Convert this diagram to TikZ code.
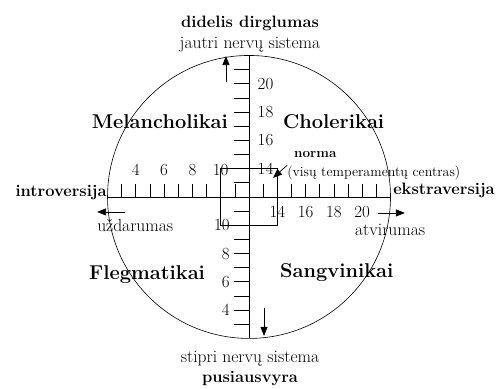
\documentclass[tikz,border=0pt]{standalone}
\usetikzlibrary{arrows.meta}
\tikzset{
  lbl/.style={font=\fontsize{17.5}{20}\selectfont,inner sep=0pt},
  blbl/.style={font=\fontsize{16.5}{20}\selectfont\bfseries,inner sep=0pt},
  quad/.style={font=\fontsize{20}{24}\selectfont\bfseries,inner sep=0pt},
  num/.style={font=\fontsize{17}{20}\selectfont,inner sep=0pt},
  axisline/.style={line width=0.8pt},
  tickline/.style={line width=0.7pt},
  dirarrow/.style={-{Triangle[length=9pt,width=7pt]},line width=0.7pt}
}

\begin{document}
\begin{tikzpicture}[x=14.15pt,y=14.15pt]
    \useasboundingbox (-17.6,-13.57) rectangle (17.88,13.92);
    \draw[line width=0.6pt] (0,0) circle (10);
    \draw[axisline] (-10,0) -- (10,0);
    \draw[axisline] (0,10) -- (0,-10);
    \foreach \t in {-9,...,-1,1,2,...,9} {
      \draw[tickline] (\t,0) -- (\t,0.9);
      \draw[tickline] (0,\t) -- (-1.05,\t);
    }
    \draw[tickline] (-2,-2) rectangle (2,2);
    \foreach \v in {4,6,8,10} \node[num,anchor=base] (hl\v) at (\v-12,1.55) {\v};
    \foreach \v in {14,16,18,20} \node[num,anchor=base] (hr\v) at (\v-12,-1.48) {\v};
    \foreach \v in {14,16,18,20} \node[num,anchor=west] (vt\v) at (0.6,\v-12) {\v};
    \foreach \v in {4,6,8,10} \node[num,anchor=east] (vb\v) at (-1.35,\v-12) {\v};
    \node[blbl,anchor=base] (dirg) at (0.07,12.01) {didelis dirglumas};
    \node[lbl,anchor=base] (jautri) at (0.07,10.46) {jautri nervų sistema};
    \node[quad,anchor=base east] (mel) at (-1.48,4.81) {Melancholikai};
    \node[quad,anchor=base west] (chol) at (2.4,4.81) {Cholerikai};
    \node[font=\fontsize{13.5}{16}\selectfont\bfseries,inner sep=0pt,anchor=base west] (norma) at (3.18,2.76) {norma};
    \node[font=\fontsize{14}{16}\selectfont,inner sep=0pt,anchor=base west] (centras) at (2.69,1.48) {(visų temperamentų centras)};
    \node[blbl,anchor=base east] (intro) at (-10.05,0.02) {introversija};
    \node[blbl,anchor=base west] (ekstra) at (10.18,0.14) {ekstraversija};
    \node[lbl,anchor=base west] (uzd) at (-10.74,-2.47) {uždarumas};
    \node[lbl,anchor=base west] (atv) at (7.49,-2.69) {atvirumas};
    \node[quad,anchor=base east] (fleg) at (-3.1,-5.8) {Flegmatikai};
    \node[quad,anchor=base west] (sang) at (2.19,-5.72) {Sangvinikai};
    \node[lbl,anchor=base] (stipri) at (0.07,-11.73) {stipri nervų sistema};
    \node[blbl,anchor=base] (pus) at (0.07,-13.14) {pusiausvyra};
    \coordinate (upT) at (-1.63,8.13);
    \coordinate (upH) at (-1.63,9.96);
    \coordinate (dnT) at (1.06,-7.84);
    \coordinate (dnH) at (1.06,-9.82);
    \coordinate (lfT) at (-8.76,-1.06);
    \coordinate (lfH) at (-10.74,-1.06);
    \coordinate (rtT) at (9.12,-1.13);
    \coordinate (rtH) at (11.02,-1.13);
    \coordinate (normc) at (1.7,1.35);
    \draw[dirarrow] (upT) -- (upH);
    \draw[dirarrow] (dnT) -- (dnH);
    \draw[dirarrow] (lfT) -- (lfH);
    \draw[dirarrow] (rtT) -- (rtH);
    \draw[dirarrow] (centras.north west) -- (normc);
\end{tikzpicture}
\end{document}
